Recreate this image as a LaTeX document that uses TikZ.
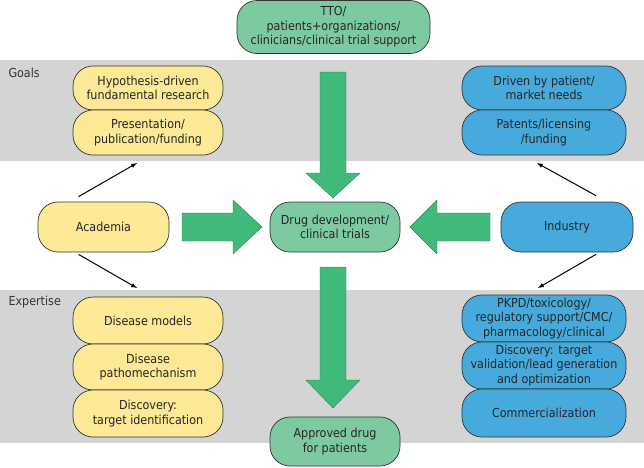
\documentclass[tikz,border=0pt]{standalone}
\usepackage{fontspec}
\setmainfont{DejaVu Sans Condensed}
\usetikzlibrary{positioning}
\definecolor{ybox}{RGB}{253,233,150}
\definecolor{bbox}{RGB}{70,170,220}
\definecolor{gbox}{RGB}{125,202,160}
\definecolor{garrow}{RGB}{64,186,122}
\definecolor{band}{RGB}{212,212,212}
\begin{document}
\begin{tikzpicture}[x=1pt, y=-1pt, >=latex, font=\fontsize{12.4}{14.6}\selectfont,
    box/.style={draw=black!80, line width=0.7pt, rounded corners=20pt, align=center,
        text=black!85, inner sep=1pt},
    acad/.style={box, fill=ybox, minimum width=150pt},
    indu/.style={box, fill=bbox, minimum width=164pt},
    mid/.style={box, fill=gbox},
    bigarrow/.style={fill=garrow, draw=garrow!70!black, line width=0.4pt},
    link/.style={->, line width=1pt}]
\useasboundingbox (0,0) rectangle (644,467);
% bands
\fill[band] (0,60) rectangle (644,161);
\fill[band] (0,290) rectangle (644,443);
\node[right, text=black!80] (goals) at (5,73) {Goals};
\node[right, text=black!80] (expert) at (5,302) {Expertise};
% big arrows
\draw[bigarrow] (182,213)--(233,213)--(233,200)--(262,227)--(233,254)--(233,241)--(182,241)--cycle;
\draw[bigarrow] (490,213)--(437,213)--(437,200)--(410,227)--(437,254)--(437,241)--(490,241)--cycle;
\draw[bigarrow] (320,72)--(320,173)--(306,173)--(333,198)--(360,173)--(346,173)--(346,72)--cycle;
\draw[bigarrow] (320,267)--(320,380)--(306,380)--(333,408)--(360,380)--(346,380)--(346,267)--cycle;
% middle column
\node[mid, minimum width=193pt, minimum height=53pt] (tto) at (333.5,27)
    {TTO/\\patients+organizations/\\clinicians/clinical trial support};
\node[mid, minimum width=130pt, minimum height=50pt] (drug) at (335,227)
    {Drug development/\\clinical trials};
\node[mid, minimum width=130pt, minimum height=49pt] (appr) at (335,441.5)
    {Approved drug\\for patients};
% academia
\node[acad, minimum width=131pt, minimum height=50pt] (aca) at (103.5,227) {Academia};
\node[acad, minimum height=44pt] (hyp) at (148,88) {Hypothesis-driven\\fundamental research};
\node[acad, minimum height=45pt] (pres) at (148,132.5) {Presentation/\\publication/funding};
\node[acad, minimum height=47pt] (model) at (148,320.5) {Disease models};
\node[acad, minimum height=46pt] (patho) at (148,367) {Disease\\pathomechanism};
\node[acad, minimum height=47pt] (ident) at (148,413.5) {Discovery:\\target identification};
% industry
\node[indu, minimum width=132pt, minimum height=50pt] (ind) at (567,227) {Industry};
\node[indu, minimum height=44pt] (need) at (544,88) {Driven by patient/\\market needs};
\node[indu, minimum height=45pt] (pat) at (544,132.5) {Patents/licensing\\/funding};
\node[indu, minimum height=47pt] (pkpd) at (544,318.5)
    {PKPD/toxicology/\\regulatory support/CMC/\\pharmacology/clinical};
\node[indu, minimum height=47pt] (valid) at (544,365.5)
    {Discovery: target\\validation/lead generation\\and optimization};
\node[indu, minimum height=48pt] (comm) at (544,413) {Commercialization};
% thin arrows
\coordinate (acagoal) at (137,163);
\coordinate (acaexp) at (137,288);
\coordinate (indgoal) at (537,163);
\coordinate (indexp) at (538,288);
\draw[link] ([shift={(-25,-5)}]aca.north) -- (acagoal);
\draw[link] ([shift={(-25,2)}]aca.south) -- (acaexp);
\draw[link] ([shift={(29,-6)}]ind.north) -- (indgoal);
\draw[link] ([shift={(29,2)}]ind.south) -- (indexp);
\end{tikzpicture}
\end{document}
